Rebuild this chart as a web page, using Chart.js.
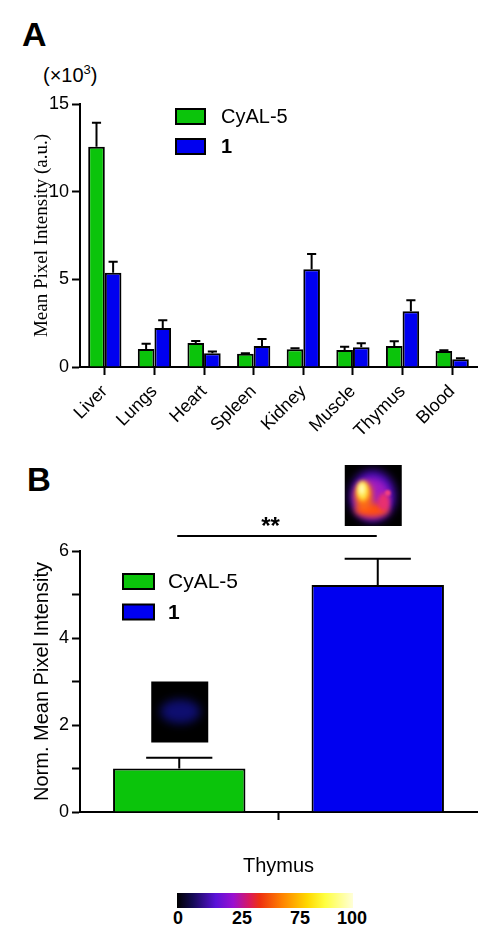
<!DOCTYPE html>
<html>
<head>
<meta charset="utf-8">
<script src="https://cdn.jsdelivr.net/npm/chart.js@4.4.1/dist/chart.umd.min.js"></script>
<style>
    body { margin: 0; background: #fff; width: 498px; height: 945px; position: relative; overflow: hidden; font-family: 'Liberation Sans', Arial, sans-serif; color: #000; }
    canvas { position: absolute; left: 0; }
    #chartA { top: 0; }
    #chartB { top: 450px; }
    .txt { position: absolute; white-space: nowrap; }
    .panel { font-weight: bold; font-size: 34px; line-height: 34px; }
    #colorbar { position: absolute; left: 177px; top: 893px; width: 176px; height: 15px;
        background: linear-gradient(to right, #000 0%, #140a55 9%, #5a12d8 22%, #9a10d0 32%, #d81860 41%, #ee3010 47%, #ff8400 60%, #ffd800 74%, #ffff40 84%, #ffffd8 100%); }
    .cb { position: absolute; top: 909px; font-weight: bold; font-size: 18px; line-height: 18px; transform: translateX(-50%); }
</style>
</head>
<body>
<div class="txt panel" style="left:22px; top:17px">A</div>
<div class="txt" style="left:43px; top:60px; font-size:20px; line-height:20px">(×10<sup style="font-size:13px">3</sup>)</div>
<canvas id="chartA" width="498" height="450"></canvas>
<div class="txt panel" style="left:27px; top:463px; font-size:33px">B</div>
<canvas id="chartB" width="498" height="440"></canvas>
<div id="colorbar"></div>
<div id="cbTicks"></div>

<script>
// Panel A : intensité par organe (x10^3)
const organs = ['Liver', 'Lungs', 'Heart', 'Spleen', 'Kidney', 'Muscle', 'Thymus', 'Blood']
const cyal5 = [12.56, 1.03, 1.37, 0.76, 1.01, 0.97, 1.2, 0.91]
const cyal5Err = [1.37, 0.3, 0.12, 0.03, 0.06, 0.19, 0.27, 0.04]
const cmpd1 = [5.37, 2.23, 0.78, 1.2, 5.58, 1.12, 3.18, 0.44]
const cmpd1Err = [0.63, 0.44, 0.1, 0.4, 0.86, 0.23, 0.63, 0.06]
const yTicksA = [0, 5, 10, 15]

// Panel B : thymus normalisé
const thymus = ['Thymus']
const normCyal5 = [1.0]
const normCyal5Err = [0.25]
const norm1 = [5.22]
const norm1Err = [0.6]
const yTicksB = [0, 2, 4, 6]

const seriesNames = ['CyAL-5', '1']
const colorbarTicks = ['0', '25', '75', '100']
const colorbarTickX = [178, 242, 300, 352]

const GREEN = '#0bc40b'
const BLUE = '#0000f0'
const FONT = "'Liberation Sans', Arial, sans-serif"

Chart.defaults.font.family = FONT
Chart.defaults.color = '#000'

// barres d'erreur (vers le haut seulement)
const errorBars = {
    id: 'errorBars',
    afterDatasetsDraw(chart, args, opts) {
        const ctx = chart.ctx
        const y = chart.scales.y
        ctx.save()
        ctx.strokeStyle = '#000'
        ctx.lineWidth = 2
        chart.data.datasets.forEach((ds, i) => {
            chart.getDatasetMeta(i).data.forEach((bar, j) => {
                const top = y.getPixelForValue(ds.data[j] + ds.errors[j])
                const half = bar.width * opts.cap / 2
                ctx.beginPath()
                ctx.moveTo(bar.x, bar.y)
                ctx.lineTo(bar.x, top)
                ctx.moveTo(bar.x - half, top)
                ctx.lineTo(bar.x + half, top)
                ctx.stroke()
            })
        })
        ctx.restore()
    }
}

// légende dessinée dans la zone du graphique
const boxLegend = {
    id: 'boxLegend',
    afterDraw(chart, args, o) {
        const ctx = chart.ctx
        ctx.save()
        chart.data.datasets.forEach((ds, i) => {
            const y = o.y + i * o.gap
            ctx.fillStyle = ds.backgroundColor
            ctx.fillRect(o.x, y, o.w, o.h)
            ctx.lineWidth = 2
            ctx.strokeStyle = '#000'
            ctx.strokeRect(o.x, y, o.w, o.h)
            ctx.fillStyle = '#000'
            ctx.font = (ds.boldLabel ? 'bold ' : '') + o.size + 'px ' + FONT
            ctx.textBaseline = 'middle'
            ctx.fillText(ds.label, o.x + o.w + o.pad, y + o.h / 2 + 1)
        })
        ctx.restore()
    }
}

function axisY(max, step, shown, title, titleFont, titlePad, width) {
    return {
        min: 0,
        max: max,
        ticks: {
            stepSize: step,
            padding: 3,
            font: { size: 18 },
            callback: (v) => (shown.includes(v) ? v : '')
        },
        grid: { drawOnChartArea: false, tickLength: 8, tickWidth: 2, tickColor: '#000' },
        border: { color: '#000', width: 2 },
        title: { display: true, text: title, font: titleFont, padding: { top: titlePad, bottom: 0 } },
        afterFit: (s) => { s.width = width }
    }
}

function axisX(height, tickOpts) {
    return {
        offset: true,
        grid: { offset: false, drawOnChartArea: false, tickLength: 8, tickWidth: 2, tickColor: '#000' },
        border: { color: '#000', width: 2 },
        ticks: tickOpts,
        afterFit: (s) => { s.height = height }
    }
}

new Chart(document.getElementById('chartA'), {
    type: 'bar',
    data: {
        labels: organs,
        datasets: [
            { label: seriesNames[0], data: cyal5, errors: cyal5Err, backgroundColor: GREEN, borderColor: '#000', borderWidth: 2 },
            { label: seriesNames[1], data: cmpd1, errors: cmpd1Err, backgroundColor: BLUE, borderColor: '#000', borderWidth: 2, boldLabel: true }
        ]
    },
    options: {
        responsive: false,
        animation: false,
        categoryPercentage: 0.67,
        barPercentage: 1,
        layout: { padding: { top: 104, right: 21, left: 0, bottom: 0 } },
        plugins: {
            legend: { display: false },
            tooltip: { enabled: false },
            errorBars: { cap: 0.55 },
            boxLegend: { x: 176, y: 109, w: 29, h: 15, gap: 30, size: 20, pad: 16 }
        },
        scales: {
            x: axisX(83, { font: { size: 18 }, minRotation: 45, maxRotation: 45, padding: 6, autoSkip: false }),
            y: axisY(15, 5, yTicksA, 'Mean Pixel Intensity (a.u.)', { family: "'Liberation Serif', 'Times New Roman', serif", size: 19 }, 31, 80)
        }
    },
    plugins: [errorBars, boxLegend]
})

// petites images de fluorescence + trait de significativité
function drawBlob(ctx, x, y, rx, ry, color, blur) {
    ctx.save()
    ctx.filter = `blur(${blur}px)`
    ctx.fillStyle = color
    ctx.beginPath()
    ctx.ellipse(x, y, rx, ry, 0, 0, Math.PI * 2)
    ctx.fill()
    ctx.restore()
}

const overlays = {
    id: 'overlays',
    afterDraw(chart) {
        const ctx = chart.ctx
        const y = chart.scales.y
        const g = chart.getDatasetMeta(0).data[0]
        const b = chart.getDatasetMeta(1).data[0]
        const lineY = y.getPixelForValue(6) - 15

        ctx.save()
        ctx.strokeStyle = '#000'
        ctx.lineWidth = 2
        ctx.beginPath()
        ctx.moveTo(g.x - 2, lineY)
        ctx.lineTo(b.x - 1, lineY)
        ctx.stroke()
        ctx.font = 'bold 24px ' + FONT
        ctx.textAlign = 'center'
        ctx.fillStyle = '#000'
        ctx.fillText('**', (g.x + b.x) / 2 - 8, lineY - 2)

        // image "1" (chaude)
        const hx = b.x - 33, hy = y.getPixelForValue(6) - 86
        ctx.fillStyle = '#000'
        ctx.fillRect(hx, hy, 57, 61)
        ctx.save()
        ctx.beginPath()
        ctx.rect(hx, hy, 57, 61)
        ctx.clip()
        drawBlob(ctx, hx + 28, hy + 31, 23, 26, '#4a0cb8', 4)
        drawBlob(ctx, hx + 27, hy + 33, 18, 20, '#a01cc0', 3)
        drawBlob(ctx, hx + 27, hy + 45, 17, 7, '#ff5010', 3)
        drawBlob(ctx, hx + 39, hy + 37, 6, 9, '#e83070', 2)
        drawBlob(ctx, hx + 19, hy + 31, 9, 14, '#ff7010', 3)
        drawBlob(ctx, hx + 18, hy + 26, 6, 10, '#ffe040', 2)
        drawBlob(ctx, hx + 17, hy + 24, 3, 6, '#ffffc0', 2)
        drawBlob(ctx, hx + 43, hy + 28, 3, 3, '#f04080', 1)
        ctx.restore()

        // image CyAL-5 (sombre)
        const cx = g.x - 28, cy = y.getPixelForValue(3)
        ctx.fillStyle = '#000'
        ctx.fillRect(cx, cy, 57, 61)
        ctx.save()
        ctx.beginPath()
        ctx.rect(cx, cy, 57, 61)
        ctx.clip()
        drawBlob(ctx, cx + 29, cy + 30, 20, 12, '#0e0e70', 5)
        ctx.restore()
        ctx.restore()
    }
}

new Chart(document.getElementById('chartB'), {
    type: 'bar',
    data: {
        labels: thymus,
        datasets: [
            { label: seriesNames[0], data: normCyal5, errors: normCyal5Err, backgroundColor: GREEN, borderColor: '#000', borderWidth: 2 },
            { label: seriesNames[1], data: norm1, errors: norm1Err, backgroundColor: BLUE, borderColor: '#000', borderWidth: 2, boldLabel: true }
        ]
    },
    options: {
        responsive: false,
        animation: false,
        categoryPercentage: 1,
        barPercentage: 0.667,
        layout: { padding: { top: 101, right: 21, left: 0, bottom: 0 } },
        plugins: {
            legend: { display: false },
            tooltip: { enabled: false },
            errorBars: { cap: 0.5 },
            boxLegend: { x: 123, y: 124, w: 31, h: 15, gap: 30.5, size: 21, pad: 14 }
        },
        scales: {
            x: axisX(78, { font: { size: 20 }, maxRotation: 0, padding: 34 }),
            y: axisY(6, 1, yTicksB, 'Norm. Mean Pixel Intensity', { size: 20 }, 30, 80)
        }
    },
    plugins: [errorBars, boxLegend, overlays]
})

// graduations de la barre de couleur
const cbTicks = document.getElementById('cbTicks')
colorbarTicks.forEach((t, i) => {
    const s = document.createElement('div')
    s.className = 'cb'
    s.style.left = colorbarTickX[i] + 'px'
    s.textContent = t
    cbTicks.appendChild(s)
})
</script>
</body>
</html>
